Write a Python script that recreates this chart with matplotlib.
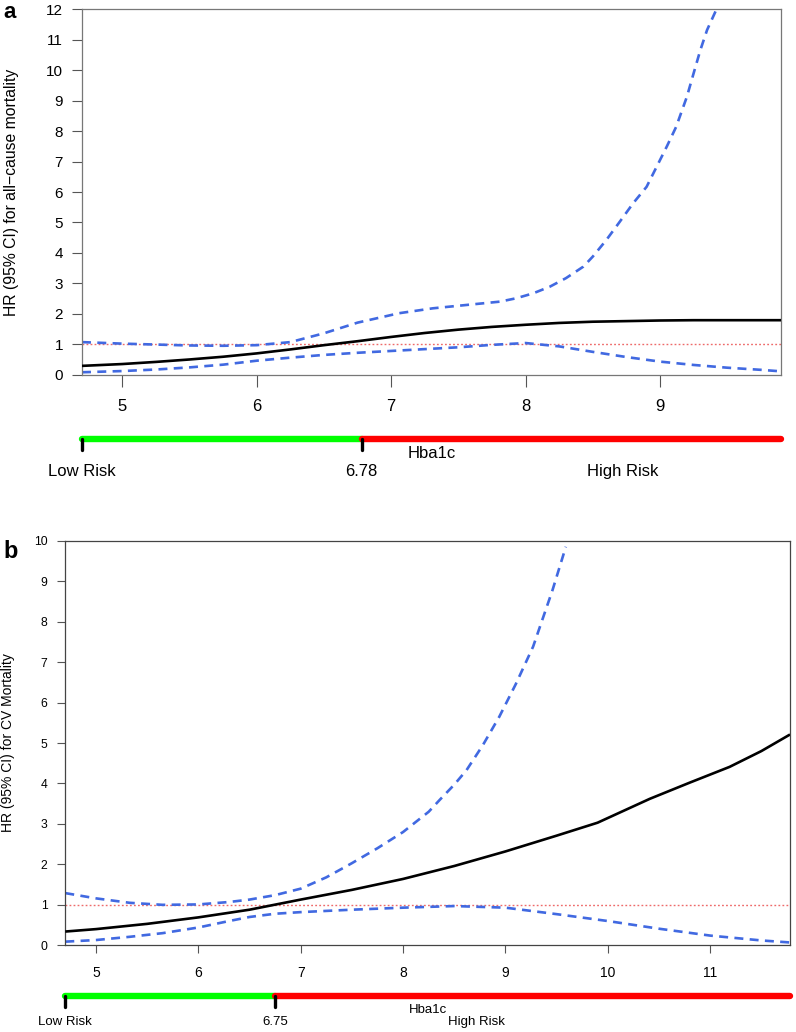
import matplotlib
matplotlib.use("Agg")
import matplotlib.pyplot as plt
import matplotlib.transforms as mtransforms
from matplotlib import font_manager

# ---------------- data ----------------
# Panel a: all-cause mortality
a_x = [4.70, 5.0, 5.25, 5.5, 5.75, 6.0, 6.25, 6.5, 6.75, 7.0, 7.25, 7.5, 7.75,
       8.0, 8.25, 8.5, 8.75, 9.0, 9.25, 9.5, 9.75, 9.90]
a_hr = [0.29, 0.35, 0.42, 0.50, 0.59, 0.70, 0.83, 0.97, 1.10, 1.24, 1.37, 1.48, 1.57,
        1.64, 1.70, 1.74, 1.76, 1.78, 1.79, 1.79, 1.79, 1.79]
a_lower = [0.08, 0.12, 0.17, 0.24, 0.33, 0.46, 0.56, 0.65, 0.72, 0.78, 0.84, 0.90, 0.98,
           1.04, 0.93, 0.75, 0.58, 0.43, 0.32, 0.23, 0.16, 0.11]
a_upper_x = [4.70, 5.0, 5.25, 5.5, 5.75, 6.0, 6.25, 6.5, 6.75, 7.06, 7.31, 7.56, 7.81,
             7.93, 8.055, 8.18, 8.30, 8.43, 8.50, 8.60, 8.70, 8.80, 8.90, 9.00, 9.05,
             9.12, 9.20, 9.25, 9.30, 9.35, 9.42]
a_upper = [1.07, 1.02, 0.99, 0.96, 0.95, 0.97, 1.07, 1.36, 1.71, 2.02, 2.18, 2.29, 2.40,
           2.51, 2.67, 2.89, 3.17, 3.55, 3.88, 4.42, 5.02, 5.63, 6.17, 7.05, 7.49,
           8.14, 9.13, 9.90, 10.66, 11.32, 12.0]
a_cut = 6.78
a_xticks = [5, 6, 7, 8, 9]
a_yticks = list(range(0, 13))

# Panel b: CV mortality
b_x = [4.70, 5.0, 5.5, 6.0, 6.5, 7.0, 7.5, 8.0, 8.5, 9.0, 9.5, 9.9, 10.41,
       10.8, 11.19, 11.5, 11.78]
b_hr = [0.34, 0.40, 0.53, 0.69, 0.88, 1.13, 1.37, 1.64, 1.96, 2.32, 2.71, 3.03, 3.62,
        4.02, 4.41, 4.80, 5.21]
b_lower_x = [4.70, 5.0, 5.33, 5.65, 6.0, 6.3, 6.5, 6.75, 7.0, 7.5, 8.0, 8.5, 9.0,
             9.5, 10.0, 10.5, 11.0, 11.5, 11.78]
b_lower = [0.09, 0.13, 0.21, 0.30, 0.44, 0.60, 0.70, 0.78, 0.82, 0.88, 0.93, 0.97, 0.93,
           0.77, 0.60, 0.41, 0.24, 0.12, 0.07]
b_upper_x = [4.70, 5.0, 5.33, 5.65, 6.0, 6.3, 6.5, 6.75, 7.0, 7.25, 7.5, 7.75, 8.0,
             8.25, 8.36, 8.5, 8.62, 8.78, 8.94, 9.1, 9.27, 9.46, 9.59]
b_upper = [1.29, 1.16, 1.05, 1.00, 1.01, 1.07, 1.13, 1.24, 1.40, 1.68, 2.03, 2.40, 2.80,
           3.30, 3.60, 3.97, 4.33, 4.95, 5.65, 6.45, 7.38, 8.78, 9.85]
b_cut = 6.75
b_xticks = [5, 6, 7, 8, 9, 10, 11]
b_yticks = list(range(0, 11))

# ---------------- fonts ----------------
def have(fam):
    try:
        font_manager.findfont(font_manager.FontProperties(family=fam),
                              fallback_to_default=False)
        return True
    except Exception:
        return False

BASE = "Liberation Sans" if have("Liberation Sans") else "DejaVu Sans"
NARROW = "Liberation Sans Narrow" if have("Liberation Sans Narrow") else BASE
plt.rcParams["font.family"] = [BASE, "DejaVu Sans"]

W, H = 796, 1032
fig = plt.figure(figsize=(W / 100, H / 100), dpi=100)


def fx(px):
    return px / W


def fy(py):
    return 1 - py / H


def panel(left, right, top, bottom, xlim, ylim, x, hr, lx, lo, ux, up, xt, yt,
          ylabel, letter, letter_y, cut, bar_y, tick_fs, ytick_fs, bar_fs,
          ylab_fs, xlab_y, risk_y, high_x, spine_col, tl_x, tl_y, xpad, ypad,
          ylab_x, letter_fs):
    ax = fig.add_axes([fx(left), fy(bottom), fx(right) - fx(left), fy(top) - fy(bottom)])
    ax.set_xlim(*xlim)
    ax.set_ylim(*ylim)
    ax.axhline(1, color="#ee6a6a", lw=1.0, dashes=(1.3, 1.6), zorder=1)
    ax.plot(x, hr, color="black", lw=1.9, zorder=3, solid_capstyle="butt")
    ax.plot(lx, lo, color="#4169e1", lw=1.9, dashes=(3.4, 2.4), zorder=2)
    ax.plot(ux, up, color="#4169e1", lw=1.9, dashes=(3.4, 2.4), zorder=2)
    ax.set_xticks(xt)
    ax.set_yticks(yt)
    ax.set_xticklabels([str(v) for v in xt], fontsize=tick_fs, family=[NARROW, BASE])
    ax.set_yticklabels([str(v) for v in yt], fontsize=ytick_fs)
    ax.tick_params(axis="x", length=tl_x, width=0.8, color="#555555", pad=xpad)
    ax.tick_params(axis="y", length=tl_y, width=0.8, color="#555555", pad=ypad)
    for s in ax.spines.values():
        s.set_color(spine_col)
        s.set_linewidth(0.9)
    fig.text(fx(ylab_x), fy((top + bottom) / 2), ylabel, rotation=90,
             ha="center", va="center", fontsize=ylab_fs)
    fig.text(fx(3), fy(letter_y), letter, fontsize=letter_fs, fontweight="bold",
             ha="left", va="center")

    # risk bar
    tr = mtransforms.blended_transform_factory(ax.transData, fig.transFigure)
    x0, x1 = x[0], xlim[1]
    ax.plot([x0, cut], [fy(bar_y)] * 2, color="#00ff00", lw=4.6,
            solid_capstyle="round", transform=tr, clip_on=False, zorder=5)
    ax.plot([cut, x1], [fy(bar_y)] * 2, color="#ff0000", lw=4.6,
            solid_capstyle="round", transform=tr, clip_on=False, zorder=5)
    for v in (x0, cut):
        ax.plot([v, v], [fy(bar_y), fy(bar_y + 11)], color="black", lw=2.4,
                solid_capstyle="round", transform=tr, clip_on=False, zorder=6)
    fig.text(fx((left + right) / 2), fy(xlab_y), "Hba1c", ha="center", va="center",
             fontsize=bar_fs, family=[NARROW, BASE])
    ax.text(x0, fy(risk_y), "Low Risk", transform=tr, ha="center", va="center",
            fontsize=bar_fs, family=[NARROW, BASE])
    ax.text(cut, fy(risk_y), f"{cut:.2f}", transform=tr, ha="center", va="center",
            fontsize=bar_fs, family=[NARROW, BASE])
    ax.text(high_x, fy(risk_y), "High Risk", transform=tr, ha="center", va="center",
            fontsize=bar_fs, family=[NARROW, BASE])
    return ax


panel(82, 781, 9.3, 374.7, (4.70, 9.90), (0, 12), a_x, a_hr, a_x, a_lower,
      a_upper_x, a_upper, a_xticks, a_yticks,
      "HR (95% CI) for all\u2212cause mortality", "a", 13, a_cut, 438.7,
      tick_fs=12, ytick_fs=11, bar_fs=12, ylab_fs=11.3,
      xlab_y=453, risk_y=472, high_x=8.72, spine_col="#777777",
      tl_x=8.4, tl_y=7.2, xpad=9, ypad=6.5, ylab_x=12, letter_fs=16)

panel(65.3, 790, 540.7, 945.3, (4.70, 11.78), (0, 10), b_x, b_hr, b_lower_x, b_lower,
      b_upper_x, b_upper, b_xticks, b_yticks,
      "HR (95% CI) for CV Mortality", "b", 551, b_cut, 995.7,
      tick_fs=10, ytick_fs=8.7, bar_fs=9.5, ylab_fs=10,
      xlab_y=1010, risk_y=1021.7, high_x=8.72, spine_col="#444444",
      tl_x=5.8, tl_y=5.8, xpad=9, ypad=7, ylab_x=8, letter_fs=17)

fig.savefig("out.png", dpi=100)
